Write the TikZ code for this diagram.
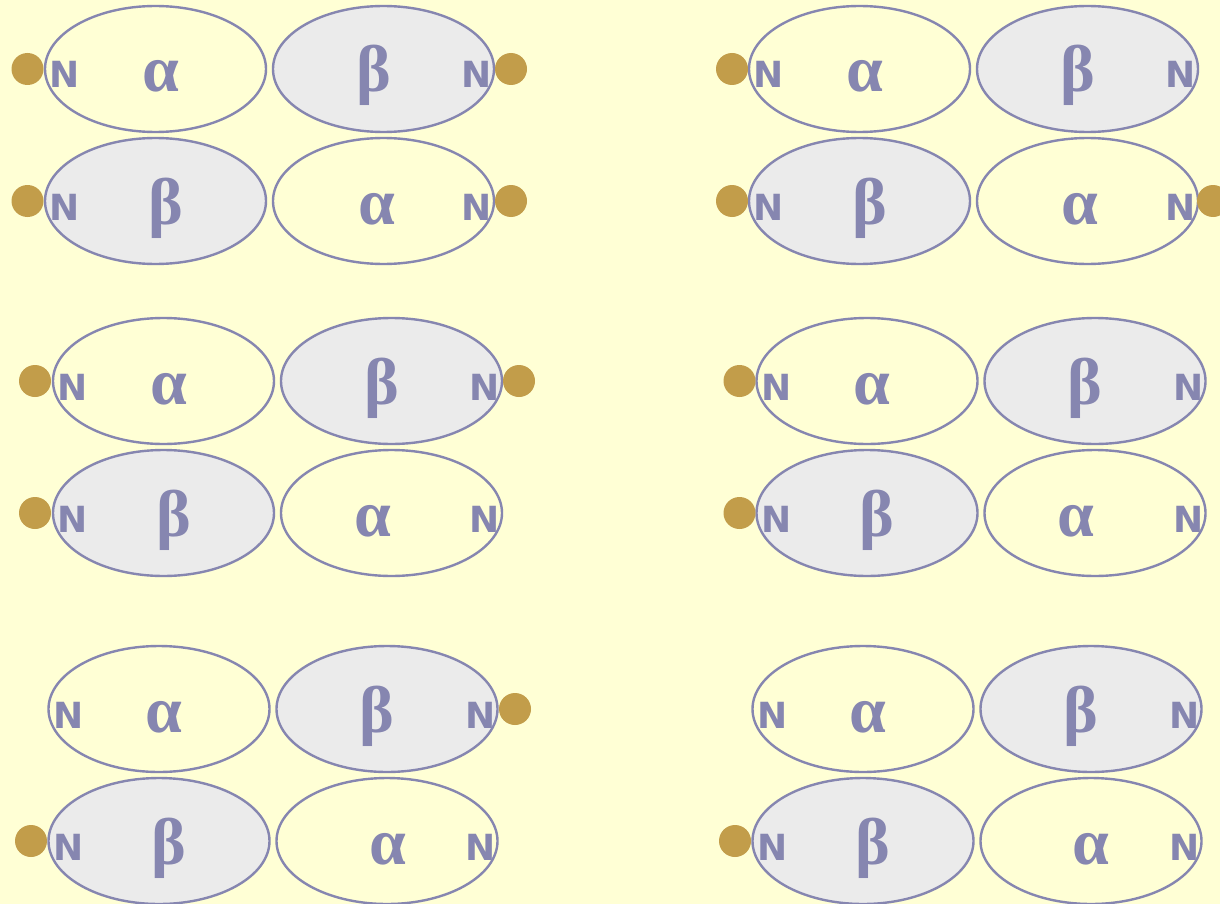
\documentclass[tikz,border=0pt]{standalone}
\usepackage{fontspec}
\setmainfont{Liberation Serif}
\newfontfamily\nfont{DejaVu Sans}
\usetikzlibrary{shapes.geometric}
\definecolor{bg}{RGB}{255,255,213}
\definecolor{ln}{RGB}{134,134,176}
\definecolor{gfill}{RGB}{235,235,235}
\definecolor{dotc}{RGB}{194,157,74}
\tikzset{
  sub/.style={ellipse, draw=ln, line width=1.2pt, minimum width=110.5pt, minimum height=63pt, inner sep=0pt},
  afill/.style={sub, fill=bg},
  bfill/.style={sub, fill=gfill},
  nlab/.style={anchor=base, text=ln, font=\nfont\bfseries\fontsize{18}{18}\selectfont, inner sep=0pt},
  glab/.style={anchor=base, text=ln, font=\bfseries\fontsize{33}{33}\selectfont, inner sep=0pt},
  ndot/.style={circle, fill=dotc, minimum size=16pt, inner sep=0pt},
}
% #1 prefix, #2 left centre x, #3 top row y, #4 offset of lower-right alpha
\newcommand\subgroup[4]{%
  \node[afill] (#1a1) at (#2,#3) {};
  \node[bfill] (#1b1) at (#2+228,#3) {};
  \node[bfill] (#1b2) at (#2,#3+132) {};
  \node[afill] (#1a2) at (#2+228,#3+132) {};
  \node[glab] (#1ta1) at (#2+5,#3+23) {α};
  \node[glab] (#1tb1) at (#2+218,#3+23) {β};
  \node[glab] (#1tb2) at (#2+10,#3+155) {β};
  \node[glab] (#1ta2) at (#2+228+#4,#3+155) {α};
  \node[nlab] (#1n1) at (#2-90.5,#3+19) {N};
  \node[nlab] (#1n2) at (#2+321.5,#3+19) {N};
  \node[nlab] (#1n3) at (#2-90.5,#3+151) {N};
  \node[nlab] (#1n4) at (#2+321.5,#3+151) {N};
}
\begin{document}
\begin{tikzpicture}[x=0.5pt,y=-0.5pt]
  \path[use as bounding box, fill=bg] (0,0) rectangle (1220,904);
  \subgroup{g1}{155.5}{69}{-7}
  \subgroup{g2}{859.5}{69}{-8}
  \subgroup{g3}{163.5}{381}{-19}
  \subgroup{g4}{867}{381}{-19}
  \subgroup{g5}{159}{709}{1}
  \subgroup{g6}{863}{709}{0}
  % dots
  \node[ndot] (d1) at (27.5,69) {};
  \node[ndot] (d2) at (27.5,201) {};
  \node[ndot] (d3) at (511,69) {};
  \node[ndot] (d4) at (511,201) {};
  \node[ndot] (d5) at (732,69) {};
  \node[ndot] (d6) at (732,201) {};
  \node[ndot] (d7) at (1213,201) {};
  \node[ndot] (d8) at (35,381) {};
  \node[ndot] (d9) at (35,513) {};
  \node[ndot] (d10) at (519,381) {};
  \node[ndot] (d11) at (739.5,381) {};
  \node[ndot] (d12) at (739.5,513) {};
  \node[ndot] (d13) at (515,709) {};
  \node[ndot] (d14) at (31,841) {};
  \node[ndot] (d15) at (735,841) {};
\end{tikzpicture}
\end{document}
